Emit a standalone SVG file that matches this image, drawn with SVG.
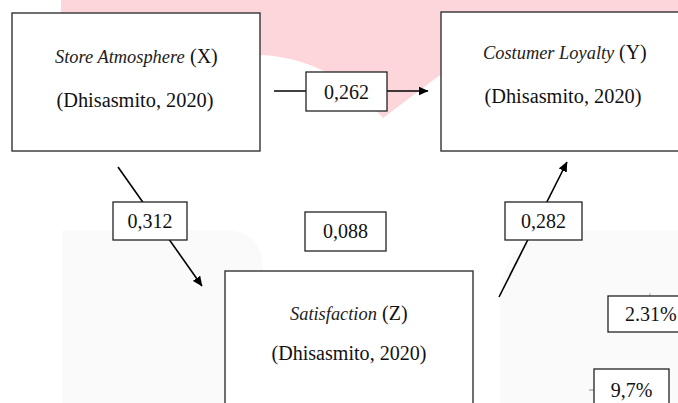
<svg xmlns="http://www.w3.org/2000/svg" width="678" height="403" viewBox="0 0 678 403">
  <style>
    .node { fill: #ffffff; stroke: #333333; stroke-width: 1.4; }
    .lbl { fill: #ffffff; stroke: #222222; stroke-width: 1.3; }
    text { font-family: "Liberation Serif", "Times New Roman", "DejaVu Serif", serif; font-size: 20px; fill: #111111; }
    .c { text-anchor: middle; }
    .it { font-style: italic; font-size: 18.4px; fill: #222222; }
    .edge { stroke: #000000; stroke-width: 1.6; fill: none; }
  </style>
  <defs>
    <marker id="arrow" viewBox="0 0 10 10" refX="9.5" refY="5" markerWidth="10" markerHeight="9" markerUnits="userSpaceOnUse" orient="auto" preserveAspectRatio="none">
      <path d="M0,0 L10,5 L0,10 Z" fill="#000000"/>
    </marker>
  </defs>
  <rect x="0" y="0" width="678" height="403" fill="#ffffff"/>
  <g id="watermark">
    <path d="M61,0 H678 V40 L440,75 L383,118 Q330,58 261,55 H61 Z" fill="#fdd6db"/>
    <path d="M62,403 V230 H223 Q263,230 263,270 V403 Z" fill="#fafafa"/>
    <path d="M500,403 V300 Q500,230 580,230 H678 V403 Z" fill="#fafafa"/>
  </g>
  <g id="connectors">
    <line class="edge" x1="274" y1="91" x2="428" y2="91" marker-end="url(#arrow)"/>
    <line class="edge" x1="118" y1="167" x2="202" y2="286" marker-end="url(#arrow)"/>
    <line class="edge" x1="499" y1="297" x2="567" y2="162" marker-end="url(#arrow)"/>
    <line stroke="#888888" stroke-width="1" x1="589" y1="390" x2="594" y2="390"/>
    <line stroke="#aaaaaa" stroke-width="1" x1="650" y1="293" x2="650" y2="296"/>
  </g>
  <g id="node-x">
    <rect class="node" x="12" y="13" width="248" height="138"/>
    <text class="it" x="55" y="63">Store Atmosphere</text>
    <text x="190" y="63">(X)</text>
    <text class="c" x="135" y="107" textLength="157" lengthAdjust="spacingAndGlyphs">(Dhisasmito, 2020)</text>
  </g>
  <g id="node-y">
    <rect class="node" x="441" y="12" width="250" height="139"/>
    <text class="it" x="483" y="59">Costumer Loyalty</text>
    <text x="619" y="59">(Y)</text>
    <text class="c" x="563" y="103" textLength="157" lengthAdjust="spacingAndGlyphs">(Dhisasmito, 2020)</text>
  </g>
  <g id="node-z">
    <rect class="node" x="225" y="271" width="248" height="150"/>
    <text class="it" x="290" y="320">Satisfaction</text>
    <text x="382" y="320">(Z)</text>
    <text class="c" x="349" y="360" textLength="155" lengthAdjust="spacingAndGlyphs">(Dhisasmito, 2020)</text>
  </g>
  <g id="label-0262">
    <rect class="lbl" x="306" y="72" width="81" height="39"/>
    <text class="c" x="346.5" y="99">0,262</text>
  </g>
  <g id="label-0312">
    <rect class="lbl" x="113" y="202" width="74" height="38"/>
    <text class="c" x="150" y="228">0,312</text>
  </g>
  <g id="label-0088">
    <rect class="lbl" x="305" y="212" width="81" height="39"/>
    <text class="c" x="345.5" y="238">0,088</text>
  </g>
  <g id="label-0282">
    <rect class="lbl" x="505" y="202" width="77" height="38"/>
    <text class="c" x="543.5" y="228">0,282</text>
  </g>
  <g id="label-231">
    <rect class="lbl" x="608" y="296" width="80" height="36"/>
    <text x="625" y="321">2.31%</text>
  </g>
  <g id="label-97">
    <rect class="lbl" x="594" y="369" width="75" height="40"/>
    <text class="c" x="631.5" y="397">9,7%</text>
  </g>
</svg>
